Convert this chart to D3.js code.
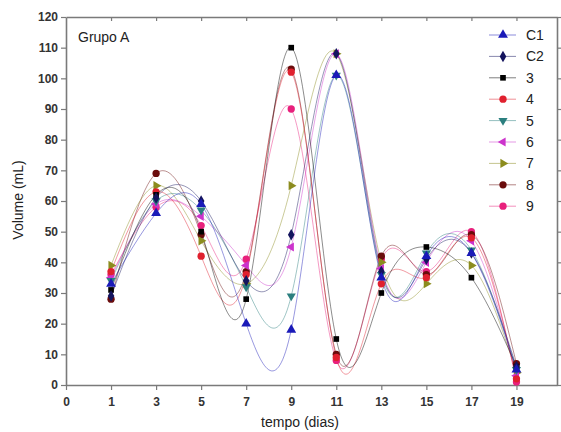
<!DOCTYPE html>
<html>
<head>
<meta charset="utf-8">
<script src="https://cdn.jsdelivr.net/npm/d3@7"></script>
<style>
  body { margin:0; background:#fff; }
  svg text { font-family: "Liberation Sans", Arial, sans-serif; }
</style>
</head>
<body>
<svg class="chart"></svg>
<script>
// data
var days = [1, 3, 5, 7, 9, 11, 13, 15, 17, 19];
var xTickLabels = ["0", "1", "3", "5", "7", "9", "11", "13", "15", "17", "19"];
var yTicks = [0, 10, 20, 30, 40, 50, 60, 70, 80, 90, 100, 110, 120];

var seriesNames = ["C1", "C2", "3", "4", "5", "6", "7", "8", "9"];
var c1 = [33, 56, 59, 20, 18, 101, 35, 42, 43, 5];
var c2 = [29, 61, 60, 34, 49, 108, 37, 41, 43, 6];
var s3 = [31, 62, 50, 28, 110, 15, 30, 45, 35, 6];
var s4 = [37, 63, 42, 36, 102, 9, 33, 35, 48, 2];
var s5 = [34, 60, 57, 32, 29, 101, 36, 43, 44, 5];
var s6 = [35, 59, 55, 39, 45, 108, 38, 40, 47, 3];
var s7 = [39, 65, 47, 33, 65, 108, 40, 33, 39, 4];
var s8 = [28, 69, 49, 37, 103, 10, 42, 36, 49, 7];
var s9 = [36, 58, 52, 41, 90, 8, 41, 37, 50, 1];
var seriesValues = [c1, c2, s3, s4, s5, s6, s7, s8, s9];

var colors = ["#1a1ab8", "#14145e", "#000000", "#e0202e", "#2b7f7f", "#cc33cc", "#8c8c1e", "#6a0c0c", "#e8207c"];
var shapes = [
  d3.symbolTriangle, d3.symbolDiamond, d3.symbolSquare, d3.symbolCircle,
  "down", "left", "right", d3.symbolCircle, d3.symbolCircle
];

var svg = {};
(function(){
    var self = this
    , width = 561
    , height = 432;
    self.canvas = d3.select(".chart")
        .attr("width", width)
        .attr("height", height);
    self.margin = {left:66, right:557, top:17, bottom:385};
}).apply(svg);

var m = svg.margin;
var x = d3.scaleLinear().domain([0, 10.9]).range([m.left, m.right]);
var y = d3.scaleLinear().domain([0, 120]).range([m.bottom, m.top]);
var dayPos = function(d){ return x((d + 1) / 2); };

function marker(shape){
    if (shape === "down" || shape === "left" || shape === "right") {
        var rot = shape === "down" ? 180 : (shape === "left" ? -90 : 90);
        return {path: d3.symbol(d3.symbolTriangle, 36)(), rot: rot};
    }
    var size = shape === d3.symbolDiamond ? 38 : (shape === d3.symbolSquare ? 32 : 42);
    return {path: d3.symbol(shape, size)(), rot: 0};
}

var canvas = svg.canvas;

canvas.append("clipPath").attr("id", "clip")
  .append("rect")
  .attr("x", m.left).attr("y", m.top)
  .attr("width", m.right - m.left).attr("height", m.bottom - m.top);

// axes
var axisColor = "#7a7a7a";
var bottomAxis = d3.axisBottom(x)
  .tickValues(d3.range(0, 11))
  .tickFormat(function(i){ return xTickLabels[i]; })
  .tickSize(5).tickSizeOuter(0);
var gx = canvas.append("g").attr("transform", "translate(0," + m.bottom + ")").call(bottomAxis);
var topAxis = d3.axisTop(x).tickValues(d3.range(1, 11)).tickSize(-4).tickSizeOuter(0).tickFormat("");
var gt = canvas.append("g").attr("transform", "translate(0," + m.top + ")").call(topAxis);
var leftAxis = d3.axisLeft(y).tickValues(yTicks).tickSize(5).tickSizeOuter(0);
var gy = canvas.append("g").attr("transform", "translate(" + m.left + ",0)").call(leftAxis);
var rightAxis = d3.axisRight(y).tickValues(yTicks).tickSize(4).tickSizeOuter(0).tickFormat("");
var gr = canvas.append("g").attr("transform", "translate(" + m.right + ",0)").call(rightAxis);

[gx, gt, gy, gr].forEach(function(g){
    g.select(".domain").attr("stroke", axisColor).attr("stroke-width", 1.6);
    g.selectAll(".tick line").attr("stroke", axisColor).attr("stroke-width", 1.2);
    g.selectAll(".tick text")
      .attr("fill", "#333")
      .attr("font-size", "12px")
      .attr("font-weight", "bold")
      .attr("font-family", "Liberation Sans, Arial, sans-serif");
});
gx.selectAll(".tick text").attr("dy", "1.1em");

// curves
var line = d3.line()
  .x(function(d){ return dayPos(d.day); })
  .y(function(d){ return y(d.v); })
  .curve(d3.curveNatural);

var order = d3.range(seriesNames.length).reverse();

var plot = canvas.append("g").attr("clip-path", "url(#clip)");
order.forEach(function(k){
    var pts = days.map(function(d, i){ return {day:d, v:seriesValues[k][i]}; });
    plot.append("path")
      .attr("d", line(pts))
      .attr("fill", "none")
      .attr("stroke", colors[k])
      .attr("stroke-opacity", 0.5)
      .attr("stroke-width", 0.9);
});

order.forEach(function(k){
    var mk = marker(shapes[k]);
    canvas.append("g")
      .selectAll("path")
      .data(days.map(function(d, i){ return {day:d, v:seriesValues[k][i]}; }))
      .enter()
      .append("path")
      .attr("d", mk.path)
      .attr("fill", colors[k])
      .attr("transform", function(d){
          return "translate(" + dayPos(d.day) + "," + y(d.v) + ") rotate(" + mk.rot + ")";
      });
});

// legend
var legend = canvas.append("g").attr("transform", "translate(489,35)");
seriesNames.forEach(function(name, k){
    var row = legend.append("g").attr("transform", "translate(0," + (k * 21.4) + ")");
    var mk = marker(shapes[k]);
    row.append("line")
      .attr("x1", 0).attr("x2", 27).attr("y1", 0).attr("y2", 0)
      .attr("stroke", colors[k]).attr("stroke-opacity", 0.5).attr("stroke-width", 1);
    row.append("path")
      .attr("d", mk.path)
      .attr("fill", colors[k])
      .attr("transform", "translate(14,0) rotate(" + mk.rot + ")");
    row.append("text")
      .attr("x", 37).attr("y", 5)
      .attr("font-size", "14px")
      .attr("fill", "#222")
      .text(name);
});

canvas.append("text")
  .attr("x", 78).attr("y", 42)
  .attr("font-size", "14px")
  .attr("fill", "#222")
  .text("Grupo A");

canvas.append("text")
  .attr("x", 300).attr("y", 427)
  .attr("text-anchor", "middle")
  .attr("font-size", "14px")
  .attr("fill", "#222")
  .text("tempo (dias)");

canvas.append("text")
  .attr("transform", "translate(23,200) rotate(-90)")
  .attr("text-anchor", "middle")
  .attr("font-size", "14px")
  .attr("fill", "#222")
  .text("Volume (mL)");
</script>
</body>
</html>
